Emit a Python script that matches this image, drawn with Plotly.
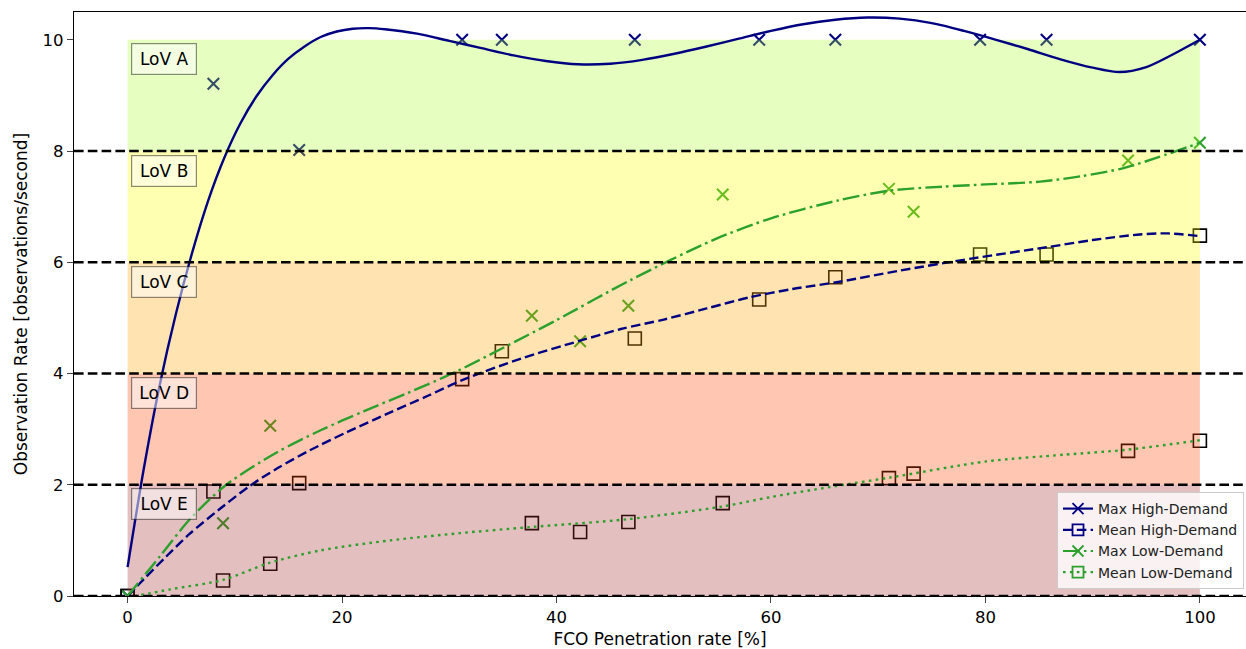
import plotly.graph_objects as go

# ---------------- data ----------------
# measured points (x = FCO penetration rate %)
x_high = [0, 8.0, 16.0, 31.2, 34.9, 47.3, 58.9, 66.0, 79.5, 85.7, 100]
max_high = [0, 9.21, 8.02, 10, 10, 10, 10, 10, 10, 10, 10]
mean_high = [0, 1.88, 2.03, 3.9, 4.4, 4.63, 5.33, 5.73, 6.14, 6.14, 6.48]

x_low = [0, 8.9, 13.3, 37.7, 42.2, 46.7, 55.5, 71.0, 73.3, 93.3, 100]
max_low = [0, 1.31, 3.06, 5.04, 4.58, 5.22, 7.22, 7.32, 6.91, 7.83, 8.15]
mean_low = [0, 0.28, 0.58, 1.31, 1.15, 1.33, 1.67, 2.12, 2.2, 2.61, 2.79]

# fitted curves
fit_max_high_x = [0, 1.5, 3, 4.5, 6, 7.5, 9, 10.5, 12, 13.5, 15, 16.5, 18, 19.5, 21, 22.5,
                  24, 27, 30, 33, 36, 39, 42, 45, 48, 51, 54, 57, 60, 63, 66, 69, 72, 75,
                  78, 81, 84, 87, 90, 92.5, 95, 97.5, 100]
fit_max_high_y = [0.52, 2.28, 3.8, 5.07, 6.16, 7.1, 7.87, 8.49, 8.98, 9.36, 9.66, 9.88, 10.05, 10.15,
                  10.2, 10.21, 10.19, 10.11, 9.98, 9.85, 9.72, 9.62, 9.56, 9.57, 9.64, 9.75, 9.88,
                  10.02, 10.16, 10.28, 10.36, 10.4, 10.38, 10.3, 10.16, 10.0, 9.83, 9.65, 9.5,
                  9.42, 9.51, 9.74, 10.0]

fit_mean_high_x = [0, 1.5, 3.6, 5.8, 8.5, 11.4, 14, 17, 20.5, 24.5, 28, 31.2, 36.7, 42.2, 46, 50,
                   54, 58, 62, 66.4, 72, 78.8, 85.7, 90, 94.4, 97, 100]
fit_mean_high_y = [0, 0.3, 0.71, 1.12, 1.55, 1.98, 2.3, 2.62, 2.95, 3.3, 3.6, 3.88, 4.27, 4.59, 4.8, 4.97,
                   5.17, 5.37, 5.52, 5.65, 5.85, 6.07, 6.27, 6.4, 6.5, 6.52, 6.47]

fit_max_low_x = [0, 3.0, 5.8, 9.2, 13.9, 18, 22, 26, 30.7, 34.9, 40, 46.9, 54.6, 60, 66.2, 71.1,
                 76, 80, 85.1, 89, 92.8, 96, 100]
fit_max_low_y = [0, 0.71, 1.38, 2.0, 2.58, 2.98, 3.32, 3.64, 4.04, 4.45, 4.96, 5.68, 6.4, 6.79, 7.11, 7.29,
                 7.36, 7.4, 7.45, 7.55, 7.69, 7.88, 8.15]

fit_mean_low_x = [0, 4, 8.9, 13.3, 18, 24.5, 31, 37.6, 46.6, 55.5, 60, 65.5, 71.1, 80.1, 87.3, 93.2, 100]
fit_mean_low_y = [-0.03, 0.12, 0.29, 0.6, 0.82, 1.0, 1.13, 1.24, 1.38, 1.61, 1.78, 1.96, 2.13, 2.42, 2.54, 2.63, 2.8]

# level-of-value bands
lov_labels = ["LoV A", "LoV B", "LoV C", "LoV D", "LoV E"]
lov_low = [8, 6, 4, 2, 0]
lov_high = [10, 8, 6, 4, 2]
lov_colors = ["rgba(173,255,47,0.3)", "rgba(255,255,0,0.3)", "rgba(255,165,0,0.3)",
              "rgba(255,69,0,0.3)", "rgba(165,42,42,0.3)"]
band_x = [0, 100]
thresholds = [0, 2, 4, 6, 8]

x_ticks = [0, 20, 40, 60, 80, 100]
y_ticks = [0, 2, 4, 6, 8, 10]

NAVY = "#000080"
GREEN = "#2ca02c"
FONT = "DejaVu Sans"

DASH = "9.6px,4.2px"
DASHDOT = "16.7px,4.2px,2.6px,4.2px"
DOT = "2.6px,4.3px"

fig = go.Figure()

# markers (drawn first, under the coloured bands)
fig.add_trace(go.Scatter(x=x_high, y=max_high, mode="markers", showlegend=False, hoverinfo="skip",
                         marker=dict(symbol="x-thin", size=11.5, line=dict(color=NAVY, width=2.1))))
fig.add_trace(go.Scatter(x=x_high, y=mean_high, mode="markers", showlegend=False, hoverinfo="skip",
                         marker=dict(symbol="square-open", size=13, color="black", line=dict(width=1.6))))
fig.add_trace(go.Scatter(x=x_low, y=max_low, mode="markers", showlegend=False, hoverinfo="skip",
                         marker=dict(symbol="x-thin", size=11.5, line=dict(color=GREEN, width=2.1))))
fig.add_trace(go.Scatter(x=x_low, y=mean_low, mode="markers", showlegend=False, hoverinfo="skip",
                         marker=dict(symbol="square-open", size=13, color="black", line=dict(width=1.6))))

# coloured bands
for lo, hi, col in zip(lov_low, lov_high, lov_colors):
    fig.add_trace(go.Scatter(x=[band_x[0], band_x[1], band_x[1], band_x[0], band_x[0]],
                             y=[lo, lo, hi, hi, lo], mode="lines", fill="toself",
                             fillcolor=col, line=dict(width=0), showlegend=False, hoverinfo="skip"))

# fitted curves
SM = 0.8
fig.add_trace(go.Scatter(x=fit_max_high_x, y=fit_max_high_y, mode="lines", showlegend=False,
                         line=dict(color=NAVY, width=2.4, shape="spline", smoothing=SM)))
fig.add_trace(go.Scatter(x=fit_mean_high_x, y=fit_mean_high_y, mode="lines", showlegend=False,
                         line=dict(color=NAVY, width=2.4, dash=DASH, shape="spline", smoothing=SM)))
fig.add_trace(go.Scatter(x=fit_max_low_x, y=fit_max_low_y, mode="lines", showlegend=False,
                         line=dict(color=GREEN, width=2.4, dash=DASHDOT, shape="spline", smoothing=SM)))
fig.add_trace(go.Scatter(x=fit_mean_low_x, y=fit_mean_low_y, mode="lines", showlegend=False,
                         line=dict(color=GREEN, width=2.4, dash=DOT, shape="spline", smoothing=SM)))

# legend entries
legend_specs = [
    ("Max High-Demand", NAVY, "solid", "x-thin"),
    ("Mean High-Demand", NAVY, DASH, "square-open"),
    ("Max Low-Demand", GREEN, DASHDOT, "x-thin"),
    ("Mean Low-Demand", GREEN, DOT, "square-open"),
]
for name, col, dash, sym in legend_specs:
    mk = dict(symbol=sym, size=11, color=col, line=dict(color=col, width=1.8))
    fig.add_trace(go.Scatter(x=[None], y=[None], mode="lines+markers", name=name,
                             line=dict(color=col, width=2.2, dash=dash), marker=mk))

# threshold lines
for t in thresholds:
    fig.add_shape(type="line", xref="paper", x0=0, x1=1, yref="y", y0=t, y1=t, layer="above",
                  line=dict(color="black", width=2.6, dash=DASH))

# LoV labels
for lab, hi in zip(lov_labels, lov_high):
    fig.add_annotation(x=0.31, y=hi - 0.35, xref="x", yref="y", text=lab, showarrow=False,
                       xanchor="left", yanchor="middle", width=54, height=20,
                       font=dict(family=FONT, size=17, color="black"),
                       bgcolor="rgba(255,255,255,0.5)", bordercolor="rgba(0,0,0,0.45)",
                       borderwidth=1.2, borderpad=5)

fig.update_layout(
    width=1246, height=649,
    margin=dict(l=74, r=0, t=12, b=53),
    paper_bgcolor="white", plot_bgcolor="white",
    font=dict(family=FONT, size=17, color="black"),
    showlegend=True,
    legend=dict(x=0.9983, xanchor="right", y=0.012, yanchor="bottom",
                bgcolor="rgba(255,255,255,0.8)", bordercolor="#cccccc", borderwidth=1,
                font=dict(family=FONT, size=14, color="#222222")),
    xaxis=dict(range=[-5, 104.3], tickvals=x_ticks, ticks="outside", ticklen=6, tickwidth=1.4,
               showline=True, linecolor="black", linewidth=1.4, mirror=True,
               showgrid=False, zeroline=False, tickfont=dict(size=16.5),
               title=dict(text="FCO Penetration rate [%]", standoff=8, font=dict(size=17))),
    yaxis=dict(range=[0, 10.5], tickvals=y_ticks, ticks="outside", ticklen=6, tickwidth=1.4,
               showline=True, linecolor="black", linewidth=1.4, mirror=False,
               showgrid=False, zeroline=False, tickfont=dict(size=16.5),
               title=dict(text="Observation Rate [observations/second]", standoff=10,
                          font=dict(size=17))),
)

fig.write_html("out.html")
